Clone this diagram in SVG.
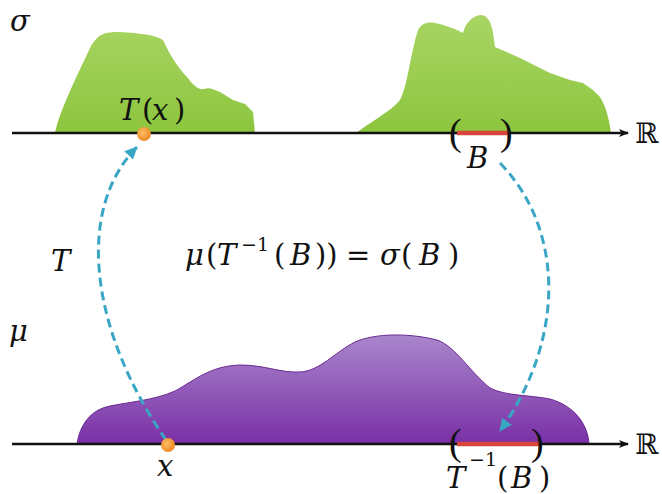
<svg xmlns="http://www.w3.org/2000/svg" width="662" height="494" viewBox="0 0 662 494">
<style>
.m{font-family:"DejaVu Serif","Liberation Serif",serif;font-style:italic;font-size:29px;fill:#111}
.r{font-family:"DejaVu Serif","Liberation Serif",serif;font-style:normal;font-size:29px;fill:#111}
.sup{font-family:"DejaVu Serif","Liberation Serif",serif;font-size:19px;fill:#111}
.bb{font-family:"DejaVu Serif","DejaVu Sans",serif;font-size:28px;fill:#111}
.par{font-family:"Liberation Serif","DejaVu Serif",serif;font-size:38px;fill:#111}
.axis{stroke:#111;stroke-width:2.5;fill:none}
.seg{stroke:#d8453a;stroke-width:4.5;fill:none}
.dash{stroke:#3aa6c5;stroke-width:3;fill:none;stroke-dasharray:9 5}
</style>
<defs>
<linearGradient id="gGreen" x1="0" y1="15" x2="0" y2="133" gradientUnits="userSpaceOnUse">
<stop offset="0" stop-color="#a9d564"/><stop offset="1" stop-color="#8cc53e"/>
</linearGradient>
<linearGradient id="gPurple" x1="0" y1="334" x2="0" y2="444" gradientUnits="userSpaceOnUse">
<stop offset="0" stop-color="#a987cc"/><stop offset="1" stop-color="#7a2fa6"/>
</linearGradient>
<radialGradient id="gDot" cx="0.4" cy="0.4" r="0.6">
<stop offset="0" stop-color="#fcbd66"/><stop offset="1" stop-color="#ef8b25"/>
</radialGradient>
<marker id="axArrow" markerWidth="10" markerHeight="8" refX="9" refY="4" orient="auto" markerUnits="userSpaceOnUse">
<path d="M0,0 L10,4 L0,8 L2.5,4 Z" fill="#111"/>
</marker>
<marker id="dArrow" markerWidth="14" markerHeight="12" refX="12" refY="6" orient="auto" markerUnits="userSpaceOnUse">
<path d="M0,0 L13,6 L0,12 Z" fill="#3aa6c5"/>
</marker>
</defs>
<rect width="662" height="494" fill="#ffffff"/>

<g id="sigma-density">
<path d="M55,133 C60,110 75,80 90,48 C98,33 105,32 120,32 C140,33 155,35 163,40 C168,50 172,60 187,77 C193,85 198,90 204,89 C210,87 214,90 220,92 L233,100 L245,104 L253,112 L255,133 Z" fill="url(#gGreen)"/>
<path d="M356,133 C370,122 390,112 400,100 C408,85 410,55 418,30 C422,22 430,21 440,24 C450,27 458,30 463,33 C465,25 470,17 480,15 C488,15 491,22 493,33 L495,47 C505,51 520,58 530,63 L550,73 L570,80 L583,83 L593,90 L600,97 C606,107 609,118 611,133 Z" fill="url(#gGreen)"/>
</g>

<g id="mu-density">
<path d="M77,444 C80,425 90,410 110,406 C130,402 155,400 175,391 C195,380 210,366 240,365 C265,365 280,373 300,372 C320,371 335,352 355,342 C375,333 410,333 437,340 C455,346 470,372 490,388 C505,396 530,395 550,399 C575,406 588,425 589,444 Z" fill="url(#gPurple)" stroke="#6b2a93" stroke-width="1"/>
</g>

<g id="sigma-axis">
<line class="axis" x1="12" y1="133" x2="628" y2="133" marker-end="url(#axArrow)"/>
<text class="bb" x="635" y="143">ℝ</text>
<text class="m" x="10" y="31">σ</text>
</g>

<g id="mu-axis">
<line class="axis" x1="12" y1="444" x2="628" y2="444" marker-end="url(#axArrow)"/>
<text class="bb" x="635" y="454">ℝ</text>
<text class="m" x="9" y="341">μ</text>
</g>

<g id="set-B">
<line class="seg" x1="457" y1="133" x2="510" y2="133"/>
<text class="par" x="449" y="145">(</text>
<text class="par" x="500" y="145">)</text>
<text class="m" x="467" y="168">B</text>
</g>

<g id="set-Tinv-B">
<line class="seg" x1="457" y1="444" x2="541" y2="444"/>
<text class="par" x="449" y="455">(</text>
<text class="par" x="531" y="455">)</text>
<text class="m" x="446" y="488">T</text>
<text class="sup" x="469" y="466">−1</text>
<text class="r" x="497" y="488">(</text>
<text class="m" x="511" y="488">B</text>
<text class="r" x="539" y="488">)</text>
</g>

<g id="connectors">
<path class="dash" d="M166,440 C90,330 75,210 137,147" marker-end="url(#dArrow)"/>
<path class="dash" d="M500,163 C565,230 565,340 500,431" marker-end="url(#dArrow)"/>
</g>

<g id="point-Tx">
<circle cx="144" cy="134" r="7" fill="url(#gDot)"/>
<text class="m" x="119" y="120">T</text>
<text class="r" x="142" y="120">(</text>
<text class="m" x="152" y="120">x</text>
<text class="r" x="174" y="120">)</text>
</g>

<g id="point-x">
<circle cx="168" cy="445" r="7" fill="url(#gDot)"/>
<text class="m" x="157" y="476">x</text>
</g>

<g id="label-T">
<text class="m" x="51" y="271">T</text>
</g>

<g id="equation">
<text class="m" x="185" y="265">μ</text>
<text class="r" x="206" y="265">(</text>
<text class="m" x="217" y="265">T</text>
<text class="sup" x="241" y="251">−1</text>
<text class="r" x="274" y="265">(</text>
<text class="m" x="290" y="265">B</text>
<text class="r" x="315" y="265">))</text>
<text class="r" x="346" y="265">=</text>
<text class="m" x="380" y="265">σ</text>
<text class="r" x="401" y="265">(</text>
<text class="m" x="419" y="265">B</text>
<text class="r" x="448" y="265">)</text>
</g>
</svg>
